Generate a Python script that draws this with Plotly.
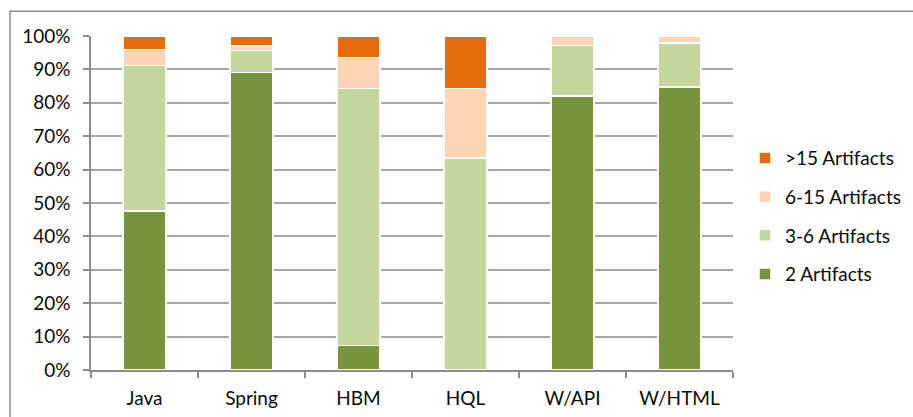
import plotly.graph_objects as go

# Share of each technology's items by number of related artifacts
categories = ["Java", "Spring", "HBM", "HQL", "W/API", "W/HTML"]
two_artifacts = [0.476, 0.891, 0.073, 0.000, 0.820, 0.848]
three_to_six = [0.436, 0.065, 0.770, 0.634, 0.152, 0.131]
six_to_fifteen = [0.047, 0.014, 0.092, 0.209, 0.028, 0.021]
over_fifteen = [0.041, 0.030, 0.065, 0.157, 0.000, 0.000]

series = [
    ("2 Artifacts", two_artifacts, "#77933C"),
    ("3-6 Artifacts", three_to_six, "#C3D69B"),
    ("6-15 Artifacts", six_to_fifteen, "#FCD5B5"),
    (">15 Artifacts", over_fifteen, "#E46C0A"),
]

FONT = "Lato, Carlito, Calibri, sans-serif"

fig = go.Figure()
for i, (name, values, color) in enumerate(series):
    fig.add_trace(go.Bar(
        x=categories,
        y=values,
        name=name,
        legendgroup=name,
        legendrank=1000 - i,  # top segment listed first in the legend
        marker=dict(color=color, line=dict(color="white", width=1.5)),
        width=0.4,
    ))

W, H = 913, 417
left, right, top, bottom = 91, 733, 35.7, 370.3
pw, ph = right - left, bottom - top

fig.update_layout(
    width=W,
    height=H,
    barmode="stack",
    margin=dict(l=left, r=W - right, t=top, b=H - bottom, autoexpand=False),
    paper_bgcolor="white",
    plot_bgcolor="white",
    font=dict(family=FONT, size=19, color="#0a0a0a"),
    showlegend=True,
    legend=dict(
        traceorder="grouped",
        x=(745 - left) / pw,
        xanchor="left",
        y=(bottom - 139) / ph,
        yanchor="top",
        font=dict(size=19, family=FONT),
        bgcolor="rgba(0,0,0,0)",
        tracegroupgap=11,
        itemwidth=30,
    ),
    xaxis=dict(
        type="category",
        showgrid=False,
        showline=True,
        linecolor="#8c8c8c",
        linewidth=1.5,
        ticks="outside",
        tickson="boundaries",
        ticklen=6,
        tickcolor="#8c8c8c",
        tickwidth=1.5,
        ticklabelstandoff=10,
    ),
    yaxis=dict(
        range=[0, 1],
        tickvals=[i / 10 for i in range(11)],
        tickformat=".0%",
        showgrid=True,
        gridcolor="#a6a6a6",
        gridwidth=1.5,
        showline=True,
        linecolor="#8c8c8c",
        linewidth=1.5,
        ticks="outside",
        ticklen=6,
        tickcolor="#8c8c8c",
        tickwidth=1.5,
        ticklabelstandoff=9,
        zeroline=False,
    ),
    bargap=0.6,
)

# Chart-area frame around the whole figure
fig.add_shape(
    type="rect",
    xref="paper", yref="paper",
    x0=(10 - left) / pw, x1=(W + 5 - left) / pw,
    y0=(bottom - (H + 5)) / ph, y1=(bottom - 11) / ph,
    line=dict(color="#8c8c8c", width=1.5),
    fillcolor="rgba(0,0,0,0)",
    layer="below",
)

fig.write_html("out.html")
